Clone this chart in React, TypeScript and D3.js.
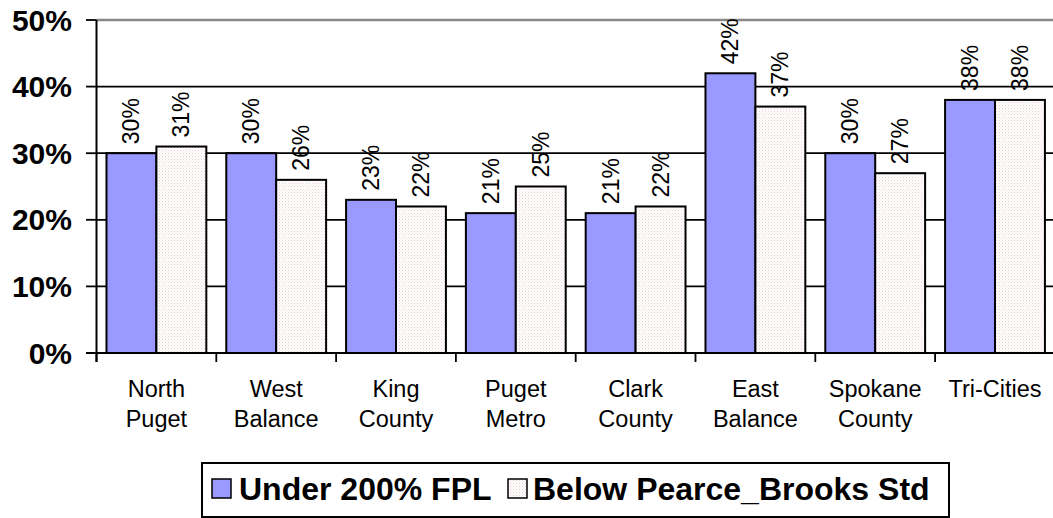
import React from "react";
import * as d3 from "d3";

const categories: string[][] = [
  ["North", "Puget"],
  ["West", "Balance"],
  ["King", "County"],
  ["Puget", "Metro"],
  ["Clark", "County"],
  ["East", "Balance"],
  ["Spokane", "County"],
  ["Tri-Cities"],
];
const under200: number[] = [30, 30, 23, 21, 21, 42, 30, 38];
const belowPB: number[] = [31, 26, 22, 25, 22, 37, 27, 38];
const seriesNames: string[] = ["Under 200% FPL", "Below Pearce_Brooks Std"];
const yTicks: number[] = [0, 10, 20, 30, 40, 50];

const W = 1053;
const H = 518;
const left = 96.5;
const catW = 119.8;
const top = 20;
const bottom = 353;

export default function App() {
  const keys = categories.map((c) => c.join(" "));
  const x = d3.scaleBand<string>().domain(keys).range([left, left + catW * keys.length]).padding(0);
  const xs = d3.scaleBand<string>().domain(seriesNames).range([0, catW]).paddingInner(0).paddingOuter(0.2);
  const y = d3.scaleLinear().domain([0, 50]).range([bottom, top]);
  const series = [under200, belowPB];
  const fills = ["#9999FF", "url(#dots)"];
  const font = "Arial, 'Liberation Sans', sans-serif";

  return (
    <svg
      width={W}
      height={H}
      style={{ position: "absolute", left: 0, top: 0, display: "block", background: "#fff" }}
      fontFamily={font}
    >
      <defs>
        <pattern id="dots" width="3" height="3" patternUnits="userSpaceOnUse">
          <rect width="3" height="3" fill="#ffffff" />
          <rect x="0" y="0" width="1" height="1" fill="#E6CFCF" />
          <rect x="1.5" y="1.5" width="1" height="1" fill="#EFDCDC" />
        </pattern>
      </defs>

      {/* gridlines */}
      {yTicks.map((t) => (
        <line
          key={"g" + t}
          x1={left}
          x2={W}
          y1={y(t)}
          y2={y(t)}
          stroke={t === 50 ? "#888888" : "#000"}
          strokeWidth={t === 50 ? 2.5 : 1.8}
        />
      ))}

      {/* y ticks & labels */}
      {yTicks.map((t) => (
        <g key={"yt" + t}>
          <line x1={86} x2={left} y1={y(t)} y2={y(t)} stroke="#000" strokeWidth={1.8} />
          <text
            x={72}
            y={y(t)}
            textAnchor="end"
            dominantBaseline="central"
            fontWeight="bold"
            fontSize={30}
            fill="#000"
          >
            {t}%
          </text>
        </g>
      ))}

      {/* bars */}
      {series.map((vals, si) =>
        vals.map((v, i) => {
          const bx = (x(keys[i]) as number) + (xs(seriesNames[si]) as number);
          return (
            <rect
              key={"b" + si + "-" + i}
              x={bx}
              y={y(v)}
              width={xs.bandwidth()}
              height={bottom - y(v)}
              fill={fills[si]}
              stroke="#000"
              strokeWidth={2}
            />
          );
        })
      )}

      {/* value labels */}
      {series.map((vals, si) =>
        vals.map((v, i) => {
          const cx = (x(keys[i]) as number) + (xs(seriesNames[si]) as number) + xs.bandwidth() / 2;
          const ty = y(v) - 9;
          return (
            <text
              key={"l" + si + "-" + i}
              transform={`translate(${cx},${ty}) rotate(-90)`}
              textAnchor="start"
              dominantBaseline="central"
              fontSize={23}
              fill="#000"
            >
              {v}%
            </text>
          );
        })
      )}

      {/* axes */}
      <line x1={left} x2={left} y1={top} y2={362} stroke="#000" strokeWidth={2} />
      <line x1={86} x2={W} y1={bottom} y2={bottom} stroke="#000" strokeWidth={2} />
      {keys.map((k, i) => (
        <line
          key={"xt" + i}
          x1={(x(k) as number)}
          x2={(x(k) as number)}
          y1={bottom}
          y2={362}
          stroke="#000"
          strokeWidth={1.8}
        />
      ))}

      {/* x labels */}
      {categories.map((lines, i) => {
        const cx = (x(keys[i]) as number) + catW / 2;
        return (
          <text key={"xl" + i} textAnchor="middle" fontSize={23.5} fill="#000">
            {lines.map((ln, j) => (
              <tspan key={j} x={cx} y={397 + j * 30}>
                {ln}
              </tspan>
            ))}
          </text>
        );
      })}

      {/* legend */}
      <rect x={202} y={463} width={747} height={54} fill="#fff" stroke="#000" strokeWidth={2} />
      <rect x={212} y={479} width={19} height={19} fill="#9999FF" stroke="#000" strokeWidth={1.5} />
      <text x={239} y={500} fontSize={32} fontWeight="bold" fill="#000">
        {seriesNames[0]}
      </text>
      <rect x={508} y={479} width={19} height={19} fill="url(#dots)" stroke="#000" strokeWidth={1.5} />
      <text x={533} y={500} fontSize={32} fontWeight="bold" fill="#000">
        {seriesNames[1]}
      </text>
    </svg>
  );
}
